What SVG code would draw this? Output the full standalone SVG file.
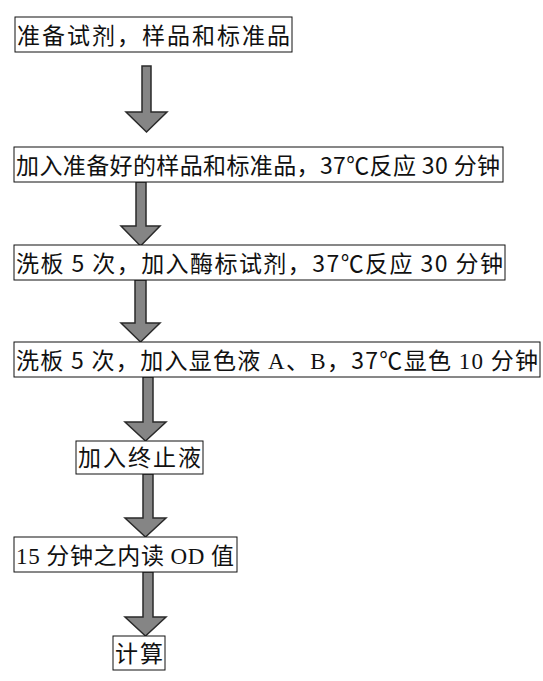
<svg xmlns="http://www.w3.org/2000/svg" width="543" height="681" viewBox="0 0 543 681">
<style>
.box{fill:#fff;stroke:#111;stroke-width:1}
.t{font-family:"Noto Sans CJK SC","Noto Sans",sans-serif;font-size:23px;fill:#111}
.s{font-family:"Liberation Serif","Noto Sans CJK SC",serif}
.arr{fill:#858585;stroke:#2a2a2a;stroke-width:1.5;stroke-linejoin:miter}
</style>
<rect width="543" height="681" fill="#fff"/>
<g id="connectors">
<polygon class="arr" points="142,66 151,66 151,112 167,112 146.5,132 126,112 142,112"/>
<polygon class="arr" points="136,182 146,182 146,226 160,226 140.5,246 121,226 136,226"/>
<polygon class="arr" points="135,280 146,280 146,323 160,323 140.5,342 121,323 135,323"/>
<polygon class="arr" points="143,377 153,377 153,422 166,422 145.5,441 125,422 143,422"/>
<polygon class="arr" points="143,474 153,474 153,518 166,518 145.5,537 125,518 143,518"/>
<polygon class="arr" points="143,572 153,572 153,617 166,617 145.5,636 125,617 143,617"/>
</g>
<g id="n1"><rect class="box" x="15" y="17" width="277" height="35"/><text class="t" x="17" y="43.5" textLength="273" lengthAdjust="spacing">准备试剂，样品和标准品</text></g>
<g id="n2"><rect class="box" x="14" y="147" width="489" height="35"/><text class="t" x="16" y="173.5" textLength="484" lengthAdjust="spacing">加入准备好的样品和标准品，37℃反应 30 分钟</text></g>
<g id="n3"><rect class="box" x="14" y="245" width="491" height="35"/><text class="t" x="16" y="271.5" textLength="487" lengthAdjust="spacing">洗板 5 次，加入酶标试剂，37℃反应 30 分钟</text></g>
<g id="n4"><rect class="box" x="14" y="342" width="526" height="35"/><text class="t" x="16" y="368.5" textLength="522" lengthAdjust="spacing">洗板 5 次，加入显色液 <tspan class="s">A</tspan>、<tspan class="s">B</tspan>，37℃显色 <tspan class="s">10</tspan> 分钟</text></g>
<g id="n5"><rect class="box" x="76" y="441" width="127" height="33"/><text class="t" x="78" y="466" textLength="123" lengthAdjust="spacing">加入终止液</text></g>
<g id="n6"><rect class="box" x="14" y="537" width="223" height="35"/><text class="t" x="16" y="563.5" textLength="218" lengthAdjust="spacing"><tspan class="s">15</tspan> 分钟之内读 <tspan class="s">OD</tspan> 值</text></g>
<g id="n7"><rect class="box" x="113" y="636" width="52" height="34"/><text class="t" x="115" y="662" textLength="48" lengthAdjust="spacing">计算</text></g>
</svg>
